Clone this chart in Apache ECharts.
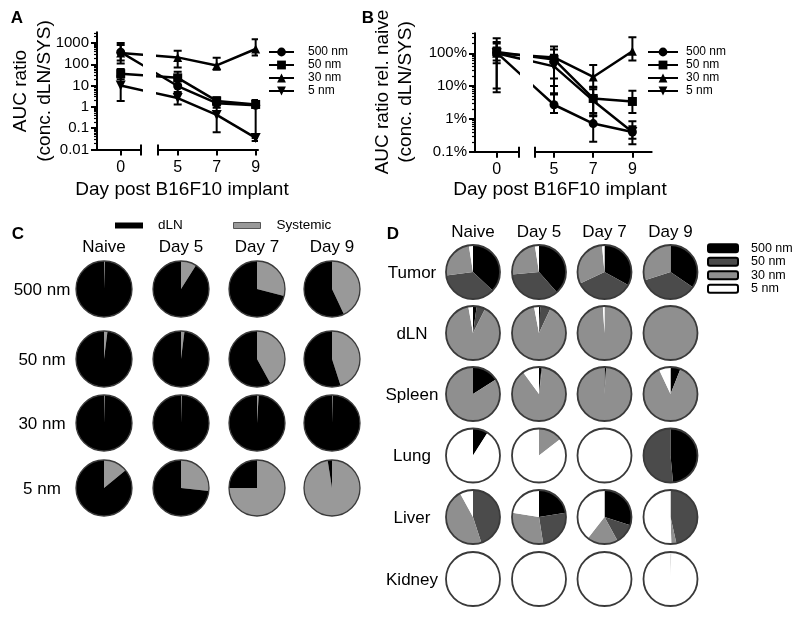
<!DOCTYPE html>
<html><head><meta charset="utf-8">
<script src="https://cdn.jsdelivr.net/npm/echarts@6.0.0/dist/echarts.min.js"></script>
<style>html,body{margin:0;padding:0;background:#fff}#chart{width:800px;height:617px}</style>
</head><body><div id="chart"></div>
<script>
// ---------------- DATA ----------------
const SIZES = ['500 nm', '50 nm', '30 nm', '5 nm'];
const DAYS = [0, 5, 7, 9];
const DAY_TICKS = [5, 7, 9];

// Panel A: AUC ratio (conc. dLN/SYS), mean and error-bar ends
const A_MEAN_500 = [370, 9.5, 1.5, 1.2];
const A_LOW_500  = [110, 5, 0.9, 0.035];
const A_HIGH_500 = [1000, 28, 2.6, 2.1];
const A_MEAN_50  = [36, 23, 1.9, 1.3];
const A_LOW_50   = [20, 11, 1.2, 0.9];
const A_HIGH_50  = [60, 45, 2.8, 2.0];
const A_MEAN_30  = [340, 210, 88, 520];
const A_LOW_30   = [150, 70, 55, 260];
const A_HIGH_30  = [800, 430, 200, 1500];
const A_MEAN_5   = [10, 2.6, 0.42, 0.035];
const A_LOW_5    = [1.9, 1.3, 0.065, 0.025];
const A_HIGH_5   = [28, 4.2, 1.2, 0.05];
const A_TICKS = [0.01, 0.1, 1, 10, 100, 1000];

// Panel B: AUC ratio relative to naive, in percent
const B_MEAN_500 = [105, 2.7, 0.72, 0.40];
const B_LOW_500  = [50, 1.5, 0.2, 0.17];
const B_HIGH_500 = [220, 6, 1.3, 0.85];
const B_MEAN_50  = [110, 65, 4.2, 3.4];
const B_LOW_50   = [6.5, 5.5, 1.2, 1.5];
const B_HIGH_50  = [290, 160, 9, 7.2];
const B_MEAN_30  = [100, 75, 19, 115];
const B_LOW_30   = [8.5, 17, 9.5, 60];
const B_HIGH_30  = [200, 130, 44, 310];
const B_MEAN_5   = [100, 40, 3.6, 0.40];
const B_LOW_5    = [60, 10, 1.5, 0.25];
const B_HIGH_5   = [150, 90, 8, 0.6];
const B_TICKS = [0.1, 1, 10, 100];

// Panel C: fraction dLN vs Systemic (Naive, Day 5, Day 7, Day 9)
const C_COLUMNS = ['Naive', 'Day 5', 'Day 7', 'Day 9'];
const C_SYS_500 = [0.005, 0.09, 0.29, 0.43];
const C_DLN_500 = [0.995, 0.91, 0.71, 0.57];
const C_SYS_50  = [0.02, 0.02, 0.42, 0.45];
const C_DLN_50  = [0.98, 0.98, 0.58, 0.55];
const C_SYS_30  = [0.004, 0.004, 0.01, 0.004];
const C_DLN_30  = [0.996, 0.996, 0.99, 0.996];
const C_SYS_5   = [0.14, 0.267, 0.75, 0.975];
const C_DLN_5   = [0.86, 0.733, 0.25, 0.025];

// Panel D: fraction per particle size [500, 50, 30, 5 nm] for each organ and day
const D_ORGANS = ['Tumor', 'dLN', 'Spleen', 'Lung', 'Liver', 'Kidney'];
const D_TUMOR  = [[0.37, 0.36, 0.245, 0.025], [0.385, 0.35, 0.24, 0.025], [0.33, 0.35, 0.305, 0.015], [0.345, 0.355, 0.30, 0]];
const D_DLN    = [[0.022, 0.052, 0.898, 0.028], [0.008, 0.062, 0.90, 0.03], [0, 0, 0.99, 0.01], [0, 0, 1, 0]];
const D_SPLEEN = [[0.16, 0, 0.84, 0], [0.015, 0.005, 0.88, 0.10], [0.01, 0, 0.99, 0], [0.06, 0, 0.87, 0.07]];
const D_LUNG   = [[0.09, 0, 0, 0.91], [0, 0, 0.145, 0.855], [0, 0, 0, 1], [0.485, 0.515, 0, 0]];
const D_LIVER  = [[0, 0.45, 0.47, 0.08], [0.225, 0.25, 0.30, 0.225], [0.30, 0.12, 0.185, 0.395], [0, 0.465, 0.03, 0.505]];
const D_KIDNEY = [[0, 0, 0, 1], [0, 0, 0, 1], [0, 0, 0, 1], [0, 0, 0.005, 0.995]];

// ---------------- STYLE / LAYOUT ----------------
const FONT = "'Liberation Sans', Arial, Helvetica, sans-serif";
const SYMBOLS = ['circle', 'rect', 'triangle', 'path://M0,0L10,0L5,9Z'];
const C_GRAY = '#999999';
const D_COLORS = ['#000000', '#4b4b4b', '#8f8f8f', '#ffffff'];
// broken x axis: day 0 sits on the same px/day scale, this far left of day 5
const DAY0_POS = 2.077;
const xPos = d => (d === 0 ? DAY0_POS : d);

const A_SETS = [[A_MEAN_500, A_LOW_500, A_HIGH_500], [A_MEAN_50, A_LOW_50, A_HIGH_50], [A_MEAN_30, A_LOW_30, A_HIGH_30], [A_MEAN_5, A_LOW_5, A_HIGH_5]];
const B_SETS = [[B_MEAN_500, B_LOW_500, B_HIGH_500], [B_MEAN_50, B_LOW_50, B_HIGH_50], [B_MEAN_30, B_LOW_30, B_HIGH_30], [B_MEAN_5, B_LOW_5, B_HIGH_5]];
const C_SETS = [[C_SYS_500, C_DLN_500], [C_SYS_50, C_DLN_50], [C_SYS_30, C_DLN_30], [C_SYS_5, C_DLN_5]];
const D_SETS = [D_TUMOR, D_DLN, D_SPLEEN, D_LUNG, D_LIVER, D_KIDNEY];

const PANELS = [
  { sets: A_SETS, yMin: 0.01, yMax: 3162, ticks: A_TICKS, fmt: v => String(v),
    left:  { left: 97, width: 44, min: 0.862, max: 3.118 },
    right: { left: 158, width: 100, min: 3.99, max: 9.12 },
    top: 32.3, height: 117.2 },
  { sets: B_SETS, yMin: 0.1, yMax: 407, ticks: B_TICKS, fmt: v => v + '%',
    left:  { left: 475, width: 43.3, min: 0.97, max: 3.18 },
    right: { left: 535, width: 116.7, min: 4.03, max: 9.985 },
    top: 33.3, height: 118.4 }
];

function minorValues(min, max) {
  const out = [];
  for (let k = -4; k <= 4; k++) for (let m = 2; m <= 9; m++) {
    const v = m * Math.pow(10, k);
    if (v > min && v < max) out.push(+v.toPrecision(3));
  }
  return out;
}

const grid = [], xAxis = [], yAxis = [], series = [], errSeries = [];
const BLACK_LINE = { color: '#000', width: 2 };

function errRender(params, api) {
  const x = api.value(0);
  const p1 = api.coord([x, api.value(1)]);
  const p2 = api.coord([x, api.value(2)]);
  const w = 4, st = { stroke: '#000', lineWidth: 2 };
  return { type: 'group', children: [
    { type: 'line', shape: { x1: p1[0], y1: p1[1], x2: p2[0], y2: p2[1] }, style: st },
    { type: 'line', shape: { x1: p1[0] - w, y1: p1[1], x2: p1[0] + w, y2: p1[1] }, style: st },
    { type: 'line', shape: { x1: p2[0] - w, y1: p2[1], x2: p2[0] + w, y2: p2[1] }, style: st }
  ]};
}

PANELS.forEach(P => {
  ['left', 'right'].forEach(side => {
    const seg = P[side];
    const gi = grid.length;
    grid.push({ left: seg.left, top: P.top, width: seg.width, height: P.height });
    const isLeft = side === 'left';
    const tickVals = isLeft ? [DAY0_POS, seg.max] : [seg.min].concat(DAY_TICKS);
    const labelVals = isLeft ? [DAY0_POS] : DAY_TICKS;
    const breakVal = isLeft ? seg.max : seg.min;
    const xi = xAxis.length;
    xAxis.push({
      gridIndex: gi, type: 'value', position: 'bottom', min: seg.min, max: seg.max,
      axisLine: { show: true, lineStyle: BLACK_LINE },
      axisTick: { show: true, length: 6, lineStyle: BLACK_LINE, customValues: tickVals },
      axisLabel: { show: true, customValues: labelVals, margin: 10, fontSize: 16, color: '#000', fontFamily: FONT,
                   formatter: v => (v < 4 ? '0' : String(Math.round(v))) },
      splitLine: { show: false }
    });
    xAxis.push({
      gridIndex: gi, type: 'value', position: 'bottom', min: seg.min, max: seg.max,
      axisLine: { show: false },
      axisTick: { show: true, inside: true, length: 5, lineStyle: BLACK_LINE, customValues: [breakVal] },
      axisLabel: { show: false }, splitLine: { show: false }
    });
    const yi = yAxis.length;
    if (isLeft) {
      yAxis.push({
        gridIndex: gi, type: 'log', logBase: 10, min: P.yMin, max: P.yMax, position: 'left',
        axisLine: { show: true, lineStyle: BLACK_LINE },
        axisTick: { show: true, length: 6, lineStyle: BLACK_LINE, customValues: P.ticks },
        axisLabel: { show: true, customValues: P.ticks, formatter: P.fmt, margin: 8, fontSize: 15, color: '#000', fontFamily: FONT },
        splitLine: { show: false }
      });
      yAxis.push({
        gridIndex: gi, type: 'log', logBase: 10, min: P.yMin, max: P.yMax, position: 'left',
        axisLine: { show: false },
        axisTick: { show: true, length: 3, lineStyle: { color: '#000', width: 1.2 }, customValues: minorValues(P.yMin, P.yMax) },
        axisLabel: { show: false }, splitLine: { show: false }
      });
    } else {
      yAxis.push({ gridIndex: gi, type: 'log', logBase: 10, min: P.yMin, max: P.yMax, show: false, splitLine: { show: false } });
    }
    P.sets.forEach((set, s) => {
      const [mean, lo, hi] = set;
      series.push({
        type: 'line', name: SIZES[s], xAxisIndex: xi, yAxisIndex: yi,
        data: DAYS.map((d, i) => [xPos(d), mean[i]]),
        symbol: SYMBOLS[s], symbolSize: s === 3 ? 10 : 9, showAllSymbol: true,
        lineStyle: { color: '#000', width: 2.5 }, itemStyle: { color: '#000' },
        clip: true, silent: true, z: 4, animation: false
      });
      errSeries.push({
        type: 'custom', xAxisIndex: xi, yAxisIndex: yi, renderItem: errRender, clip: true, silent: true, z: 3,
        encode: { x: 0, y: [1, 2] },
        data: DAYS.map((d, i) => [xPos(d), lo[i], hi[i]]).filter(p => p[0] >= seg.min && p[0] <= seg.max)
      });
    });
  });
});

// ---------------- PIES ----------------
const C_COL_X = [104, 181, 257, 332];
const C_ROW_Y = [289, 359, 423, 488];
const C_R = 28;
const D_COL_X = [473, 539, 604.5, 670.5];
const D_ROW_Y = [272, 333, 394, 455.5, 517, 579];
const D_R = 27;

const pieSeries = [];
function addPie(center, r, data, outlineW) {
  pieSeries.push({
    type: 'pie', center, radius: r, startAngle: 90, clockwise: true, silent: true, animation: false,
    label: { show: false }, labelLine: { show: false }, emphasis: { disabled: true },
    avoidLabelOverlap: false, itemStyle: { borderWidth: 0 }, data
  });
  pieSeries.push({
    type: 'pie', center, radius: r, silent: true, animation: false, z: 5,
    label: { show: false }, labelLine: { show: false }, emphasis: { disabled: true },
    data: [{ value: 1, name: 'outline', itemStyle: { color: 'rgba(0,0,0,0)', borderColor: '#3a3a3a', borderWidth: outlineW } }]
  });
}
C_SETS.forEach(([sys, dln], row) => {
  C_COLUMNS.forEach((c, col) => {
    addPie([C_COL_X[col], C_ROW_Y[row]], C_R, [
      { name: 'Systemic', value: sys[col], itemStyle: { color: C_GRAY } },
      { name: 'dLN', value: dln[col], itemStyle: { color: '#000' } }
    ], 1.3);
  });
});
D_SETS.forEach((organ, row) => {
  organ.forEach((fr, col) => {
    addPie([D_COL_X[col], D_ROW_Y[row]], D_R,
      SIZES.map((n, k) => ({ name: n, value: fr[k], itemStyle: { color: D_COLORS[k] } })), 1.8);
  });
});

// ---------------- TEXT ----------------
const graphic = [];
function txt(text, x, y, size, opts) {
  opts = opts || {};
  graphic.push({ type: 'text', x, y, rotation: opts.rot || 0, silent: true,
    style: { text, font: (opts.bold ? 'bold ' : '') + size + 'px ' + FONT, fill: '#000',
             align: opts.align || 'center', verticalAlign: 'middle' } });
}
txt('A', 17, 18, 17, { bold: true });
txt('B', 368, 18, 17, { bold: true });
txt('C', 18, 234, 17, { bold: true });
txt('D', 393, 234, 17, { bold: true });
txt('AUC ratio', 21, 91, 19, { rot: Math.PI / 2 });
txt('(conc. dLN/SYS)', 44.5, 91, 19, { rot: Math.PI / 2 });
txt('AUC ratio rel. naive', 383, 92, 19, { rot: Math.PI / 2 });
txt('(conc. dLN/SYS)', 406, 92, 19, { rot: Math.PI / 2 });
txt('Day post B16F10 implant', 182, 190, 19);
txt('Day post B16F10 implant', 560, 190, 19);
C_COLUMNS.forEach((c, i) => txt(c, C_COL_X[i], 247, 17));
SIZES.forEach((s, i) => txt(s, 42, C_ROW_Y[i] + 1, 17));
C_COLUMNS.forEach((c, i) => txt(c, D_COL_X[i], 232, 17));
D_ORGANS.forEach((o, i) => txt(o, 412, D_ROW_Y[i] + 1, 17));

// ---------------- LEGENDS ----------------
const legTxt = (size, pad, lh) => ({ fontSize: size, color: '#000', fontFamily: FONT, padding: [0, 0, 0, pad], lineHeight: lh });
const legend = [
  { data: SIZES, left: 268, top: 46, orient: 'vertical', itemWidth: 25, itemHeight: 11, itemGap: 1, padding: 0,
    selectedMode: false, textStyle: legTxt(12, 9, 12) },
  { data: SIZES, left: 647, top: 46, orient: 'vertical', itemWidth: 30, itemHeight: 11, itemGap: 1, padding: 0,
    selectedMode: false, textStyle: legTxt(12, 3, 12) },
  { data: [{ name: 'dLN', icon: 'rect', itemStyle: { color: '#000', borderWidth: 0 } }], left: 115, top: 218,
    itemWidth: 28, itemHeight: 6, padding: 0, selectedMode: false, textStyle: legTxt(13.5, 10, 15) },
  { data: [{ name: 'Systemic', icon: 'rect', itemStyle: { color: C_GRAY, borderColor: '#555', borderWidth: 1 } }], left: 233, top: 218,
    itemWidth: 27, itemHeight: 6, padding: 0, selectedMode: false, textStyle: legTxt(13.5, 11, 15) },
  { data: SIZES.map((n, i) => ({ name: n, icon: 'roundRect', itemStyle: { color: D_COLORS[i], borderColor: '#000', borderWidth: 2 } })),
    left: 707, top: 241.5, orient: 'vertical', itemWidth: 30, itemHeight: 8, itemGap: 0, padding: 0,
    selectedMode: false, textStyle: legTxt(12.5, 8, 13.5) }
];

const chart = echarts.init(document.getElementById('chart'), null, { renderer: 'canvas' });
chart.setOption({
  animation: false, backgroundColor: '#fff',
  textStyle: { fontFamily: FONT },
  grid, xAxis, yAxis, legend, graphic,
  series: series.concat(errSeries, pieSeries)
});
</script></body></html>
